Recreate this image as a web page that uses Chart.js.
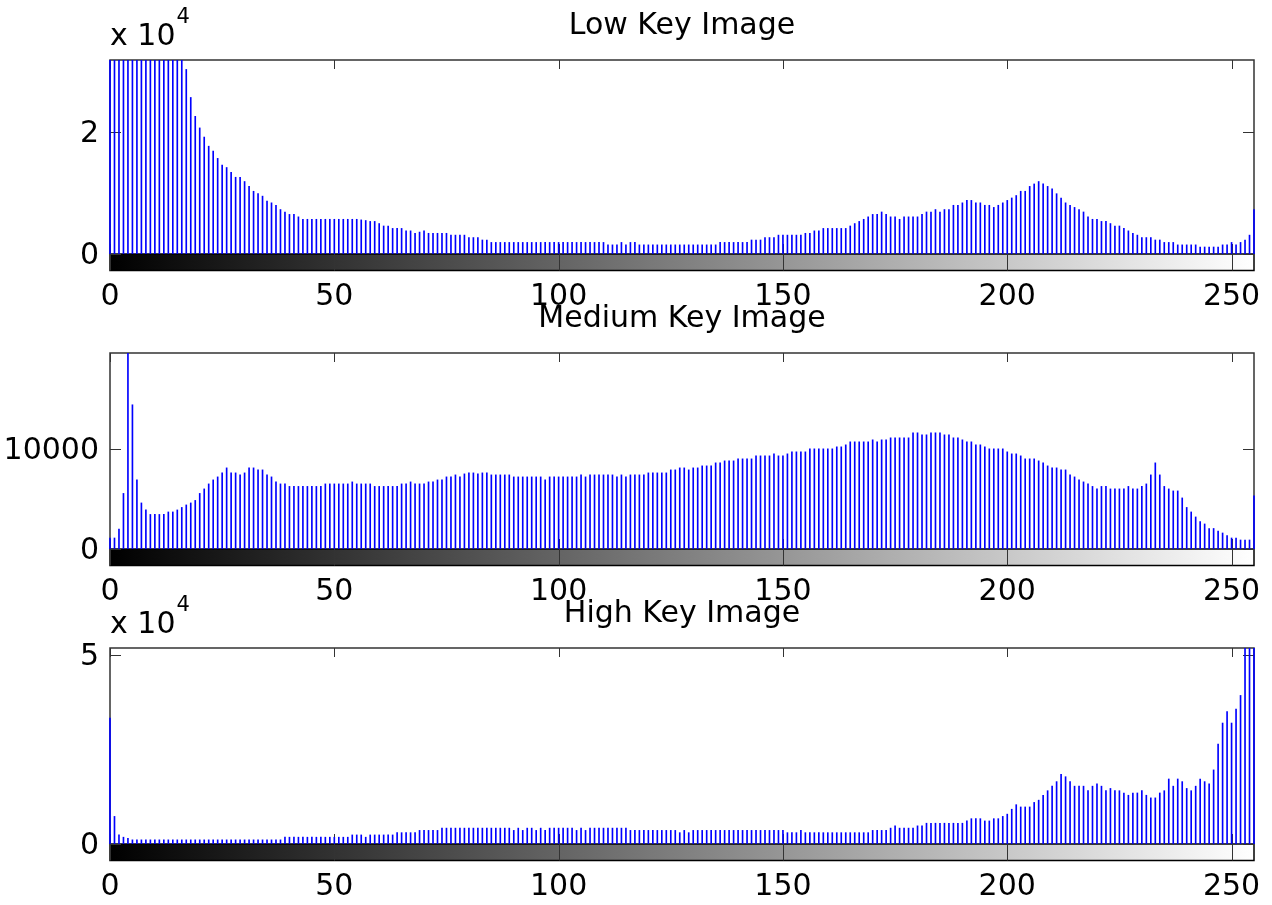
<!DOCTYPE html>
<html lang="en">
<head>
    <meta charset="UTF-8">
    <title>Low / Medium / High Key Image Histograms</title>
    <style>
        body {
            margin: 0;
            background: #fff;
            overflow: hidden;
        }

        #figure {
            position: relative;
            width: 1272px;
            height: 905px;
        }

        #figure canvas {
            position: absolute;
            left: 0;
        }
    </style>
    <script src="https://cdn.jsdelivr.net/npm/chart.js"></script>
</head>
<body>
    <div id="figure">
        <canvas id="lowKey" width="1272" height="320" style="top: 0px;"></canvas>
        <canvas id="mediumKey" width="1272" height="320" style="top: 293px;"></canvas>
        <canvas id="highKey" width="1272" height="320" style="top: 588px;"></canvas>
    </div>
    <script>
        // gray levels 0..255 (the histogram bins)
        const grayLevels = Array.from({ length: 256 }, (_, i) => i);

        const lowKeyCounts = [
            46000, 44000, 43000, 42000, 41000, 40000, 39500, 39000, 38000, 37500,
            37000, 36000, 35500, 35000, 34000, 33500, 32500, 30300, 25700, 22600,
            20700, 19200, 17700, 16900, 15700, 14600, 14200, 13400, 12600, 12600,
            11900, 11100, 10300, 9900, 9500, 8700, 8400, 8000, 7300, 6900,
            6500, 6500, 6100, 5700, 5700, 5700, 5700, 5700, 5700, 5700,
            5700, 5700, 5700, 5700, 5700, 5700, 5600, 5500, 5350, 5350,
            5000, 4600, 4600, 4200, 4200, 4200, 3800, 3800, 3400, 3600,
            3800, 3400, 3400, 3400, 3400, 3400, 3100, 3100, 3100, 3100,
            2700, 2700, 2700, 2300, 2300, 1900, 1900, 1900, 1900, 1900,
            1900, 1900, 1900, 1900, 1900, 1900, 1900, 1900, 1900, 1900,
            1900, 1900, 1900, 1900, 1900, 1900, 1900, 1900, 1900, 1900,
            1900, 1500, 1500, 1500, 1900, 1500, 1900, 1900, 1500, 1500,
            1500, 1500, 1500, 1500, 1500, 1500, 1500, 1500, 1500, 1500,
            1500, 1500, 1500, 1500, 1500, 1500, 1900, 1900, 1900, 1900,
            1900, 1900, 1900, 2300, 2300, 2300, 2700, 2700, 2700, 3100,
            3100, 3100, 3100, 3100, 3100, 3400, 3400, 3800, 3800, 4200,
            4200, 4200, 4200, 4200, 4200, 4600, 5000, 5350, 5700, 6100,
            6500, 6500, 6900, 6500, 6100, 6100, 5700, 6100, 6100, 6100,
            6100, 6500, 6900, 6900, 7300, 6900, 7300, 7300, 8000, 8000,
            8400, 8800, 8800, 8400, 8400, 8000, 8000, 7650, 8000, 8400,
            8800, 9200, 9600, 10300, 10300, 11100, 11500, 11900, 11500, 11100,
            10700, 9900, 9200, 8400, 8000, 7650, 7300, 6900, 6100, 5700,
            5700, 5350, 5350, 5000, 4600, 4600, 4200, 3800, 3400, 3100,
            2700, 2700, 2700, 2300, 2300, 1900, 1900, 1900, 1500, 1500,
            1500, 1500, 1500, 1150, 1150, 1150, 1150, 1150, 1500, 1500,
            1900, 1500, 1900, 2300, 3100, 7300
        ];

        const mediumKeyCounts = [
            1100, 1100, 2000, 5550, 26000, 14400, 6900, 4600, 3900, 3450,
            3450, 3450, 3450, 3700, 3700, 3900, 4150, 4400, 4600, 4850,
            5550, 6000, 6500, 6900, 7200, 7600, 8100, 7600, 7600, 7400,
            7600, 8100, 8100, 7900, 7900, 7400, 7200, 6700, 6500, 6500,
            6250, 6250, 6250, 6250, 6250, 6250, 6250, 6250, 6500, 6500,
            6500, 6500, 6500, 6500, 6700, 6500, 6500, 6500, 6500, 6250,
            6250, 6250, 6250, 6250, 6250, 6500, 6500, 6700, 6500, 6500,
            6500, 6700, 6700, 6900, 6900, 7200, 7200, 7400, 7200, 7500,
            7600, 7600, 7500, 7600, 7600, 7400, 7400, 7400, 7400, 7400,
            7200, 7200, 7200, 7200, 7200, 7200, 7200, 6900, 7200, 7200,
            7200, 7200, 7200, 7200, 7200, 7400, 7200, 7400, 7400, 7400,
            7400, 7400, 7400, 7200, 7400, 7200, 7400, 7400, 7400, 7400,
            7600, 7600, 7600, 7600, 7600, 7900, 7900, 8100, 8100, 7900,
            8100, 8100, 8300, 8300, 8300, 8600, 8600, 8800, 8800, 8800,
            9000, 9000, 9000, 9000, 9300, 9300, 9300, 9300, 9500, 9300,
            9300, 9500, 9700, 9700, 9700, 9700, 10000, 10000, 10000, 10000,
            10000, 10000, 10200, 10200, 10400, 10700, 10700, 10700, 10700, 10700,
            10900, 10700, 10900, 10900, 11100, 11100, 11100, 11100, 11100, 11600,
            11600, 11400, 11400, 11600, 11600, 11600, 11400, 11400, 11100, 11100,
            10900, 10700, 10700, 10400, 10400, 10200, 10000, 10000, 10000, 10000,
            9700, 9500, 9500, 9300, 9000, 9000, 9000, 8800, 8600, 8300,
            8100, 8100, 7900, 7900, 7400, 7200, 6900, 6700, 6500, 6250,
            6000, 6250, 6250, 6000, 6000, 6000, 6000, 6250, 6000, 6000,
            6250, 6500, 7400, 8600, 7400, 6250, 6000, 5800, 5800, 5100,
            4150, 3700, 3200, 2750, 2500, 2050, 2050, 1800, 1600, 1350,
            1100, 1100, 900, 900, 900, 5300
        ];

        const highKeyCounts = [
            33300, 7300, 2400, 1800, 1500, 1100, 1100, 1100, 1100, 1100,
            1100, 1100, 1100, 1100, 1100, 1100, 1100, 1100, 1100, 1100,
            1100, 1100, 1100, 1100, 1100, 1100, 1100, 1100, 1100, 1100,
            1100, 1100, 1100, 1100, 1100, 1100, 1100, 1100, 1100, 1800,
            1800, 1800, 1800, 1800, 1800, 1800, 1800, 1800, 1800, 1800,
            1800, 1800, 1800, 1800, 2400, 2400, 2400, 1800, 2400, 2400,
            2400, 2400, 2400, 2400, 3000, 3000, 3000, 3000, 3000, 3600,
            3600, 3600, 3600, 3600, 4200, 4200, 4200, 4200, 4200, 4200,
            4200, 4200, 4200, 4200, 4200, 4200, 4200, 4200, 4200, 4200,
            3600, 4200, 3600, 4200, 4200, 3600, 4200, 3600, 4200, 4200,
            4200, 4200, 4200, 4200, 3600, 4200, 3600, 4200, 4200, 4200,
            4200, 4200, 4200, 4200, 4200, 4200, 3600, 3600, 3600, 3600,
            3600, 3600, 3600, 3600, 3600, 3600, 3600, 3000, 3600, 3000,
            3600, 3600, 3600, 3600, 3600, 3600, 3600, 3600, 3600, 3600,
            3600, 3600, 3600, 3600, 3600, 3600, 3600, 3600, 3600, 3600,
            3600, 3000, 3000, 3000, 3600, 3000, 3000, 3000, 3000, 3000,
            3000, 3000, 3000, 3000, 3000, 3000, 3000, 3000, 3000, 3000,
            3600, 3600, 3600, 3600, 4200, 4800, 4200, 4200, 4200, 4200,
            4800, 4800, 5500, 5500, 5500, 5500, 5500, 5500, 5500, 5500,
            5500, 6100, 6700, 6700, 6700, 6100, 6100, 6700, 6700, 7300,
            7900, 9200, 10400, 9800, 9800, 9800, 11000, 11600, 12900, 14100,
            15300, 16500, 18400, 17800, 16500, 15300, 15300, 15300, 14100, 15300,
            15900, 15300, 14100, 14700, 14100, 14100, 13500, 12900, 13500, 13500,
            14100, 12900, 12200, 12200, 13500, 14100, 17200, 15300, 17200, 16500,
            14700, 14100, 15300, 17200, 16500, 15900, 19600, 26400, 32000, 35000,
            32000, 35700, 39300, 58000, 62000, 60000
        ];

        const xTickValues = [0, 50, 100, 150, 200, 250];
        const lowKeyYTicks = [0, 20000];
        const mediumKeyYTicks = [0, 10000];
        const highKeyYTicks = [0, 50000];

        const CANVAS_H = 320;
        const PLOT_TOP = 60;
        const COLORBAR_H = 16.5;

        // axes box, inward ticks and gray colorbar (drawn under the stems)
        const histFrame = {
            id: 'histFrame',
            beforeDatasetsDraw(chart) {
                const { ctx, chartArea: a, scales: { x, y } } = chart;
                ctx.save();

                const g = ctx.createLinearGradient(x.getPixelForValue(0), 0, x.getPixelForValue(255), 0);
                g.addColorStop(0, '#000');
                g.addColorStop(1, '#fff');
                ctx.fillStyle = g;
                ctx.fillRect(a.left, a.bottom, a.right - a.left, COLORBAR_H);
                ctx.strokeStyle = '#000';
                ctx.lineWidth = 1.5;
                ctx.strokeRect(a.left, a.bottom, a.right - a.left, COLORBAR_H);

                ctx.strokeStyle = '#333';
                ctx.lineWidth = 1.5;
                ctx.beginPath();
                ctx.moveTo(a.left, a.bottom);
                ctx.lineTo(a.left, a.top);
                ctx.lineTo(a.right, a.top);
                ctx.lineTo(a.right, a.bottom);
                ctx.stroke();

                ctx.lineWidth = 1;
                ctx.beginPath();
                x.ticks.forEach(t => {
                    const px = Math.round(x.getPixelForValue(t.value)) + 0.5;
                    ctx.moveTo(px, a.top);
                    ctx.lineTo(px, a.top + 9);
                    ctx.moveTo(px, a.bottom);
                    ctx.lineTo(px, a.bottom - 10);
                    ctx.moveTo(px, a.bottom);
                    ctx.lineTo(px, a.bottom + COLORBAR_H);
                });
                y.ticks.forEach(t => {
                    const py = Math.round(y.getPixelForValue(t.value)) + 0.5;
                    ctx.moveTo(a.left, py);
                    ctx.lineTo(a.left + 11, py);
                    ctx.moveTo(a.right, py);
                    ctx.lineTo(a.right - 11, py);
                });
                ctx.stroke();
                ctx.restore();
            },
            // "x 10^4" multiplier above the y axis
            afterDraw(chart, args, opts) {
                if (!opts.exponent) return;
                const { ctx, chartArea: a } = chart;
                ctx.save();
                ctx.fillStyle = '#000';
                ctx.textBaseline = 'middle';
                ctx.textAlign = 'left';
                ctx.font = '30px "DejaVu Sans"';
                const base = 'x 10';
                ctx.fillText(base, a.left, a.top - 23);
                const w = ctx.measureText(base).width;
                ctx.font = '21px "DejaVu Sans"';
                ctx.fillText(opts.exponent, a.left + w + 1, a.top - 42);
                ctx.restore();
            }
        };

        Chart.defaults.font.family = '"DejaVu Sans", sans-serif';
        Chart.defaults.font.size = 30;
        Chart.defaults.color = '#000';

        function makeHistogram(canvasId, title, counts, yMax, yTicks, yDivisor, exponent, plotHeight) {
            const ctx = document.getElementById(canvasId).getContext('2d');
            return new Chart(ctx, {
                type: 'bar',
                data: {
                    datasets: [{
                        data: grayLevels.map((g, i) => ({ x: g, y: counts[i] })),
                        backgroundColor: '#0000ff',
                        borderWidth: 0,
                        barThickness: 1,
                        clip: { left: 1, right: 1, top: 0, bottom: 0 }
                    }]
                },
                options: {
                    responsive: false,
                    animation: false,
                    devicePixelRatio: 1,
                    layout: {
                        padding: { left: 0, right: 18, top: 0, bottom: 0 }
                    },
                    scales: {
                        x: {
                            type: 'linear',
                            min: 0,
                            max: 255,
                            offset: false,
                            grid: { display: false, drawTicks: false },
                            border: { display: false },
                            ticks: { padding: 25.5, maxRotation: 0 },
                            afterBuildTicks: scale => {
                                scale.ticks = xTickValues.map(v => ({ value: v }));
                            },
                            afterFit: scale => {
                                scale.height = CANVAS_H - PLOT_TOP - plotHeight;
                                scale.paddingLeft = 0;
                                scale.paddingRight = 0;
                            }
                        },
                        y: {
                            min: 0,
                            max: yMax,
                            grid: { display: false, drawTicks: false },
                            border: { display: false },
                            ticks: {
                                padding: 11,
                                labelOffset: 2,
                                callback: v => String(v / yDivisor)
                            },
                            afterBuildTicks: scale => {
                                scale.ticks = yTicks.map(v => ({ value: v }));
                            },
                            afterFit: scale => {
                                scale.width = 110;
                                scale.paddingTop = 0;
                                scale.paddingBottom = 0;
                            }
                        }
                    },
                    plugins: {
                        legend: { display: false },
                        tooltip: { enabled: false },
                        title: {
                            display: true,
                            text: title,
                            fullSize: false,
                            font: { size: 30, weight: 'normal' },
                            padding: { top: 8.5, bottom: 15.5 }
                        },
                        histFrame: { exponent: exponent }
                    }
                },
                plugins: [histFrame]
            });
        }

        makeHistogram('lowKey', 'Low Key Image', lowKeyCounts, 31850, lowKeyYTicks, 10000, '4', 194);
        makeHistogram('mediumKey', 'Medium Key Image', mediumKeyCounts, 19570, mediumKeyYTicks, 1, null, 196);
        makeHistogram('highKey', 'High Key Image', highKeyCounts, 51850, highKeyYTicks, 10000, '4', 196);
    </script>
</body>
</html>
